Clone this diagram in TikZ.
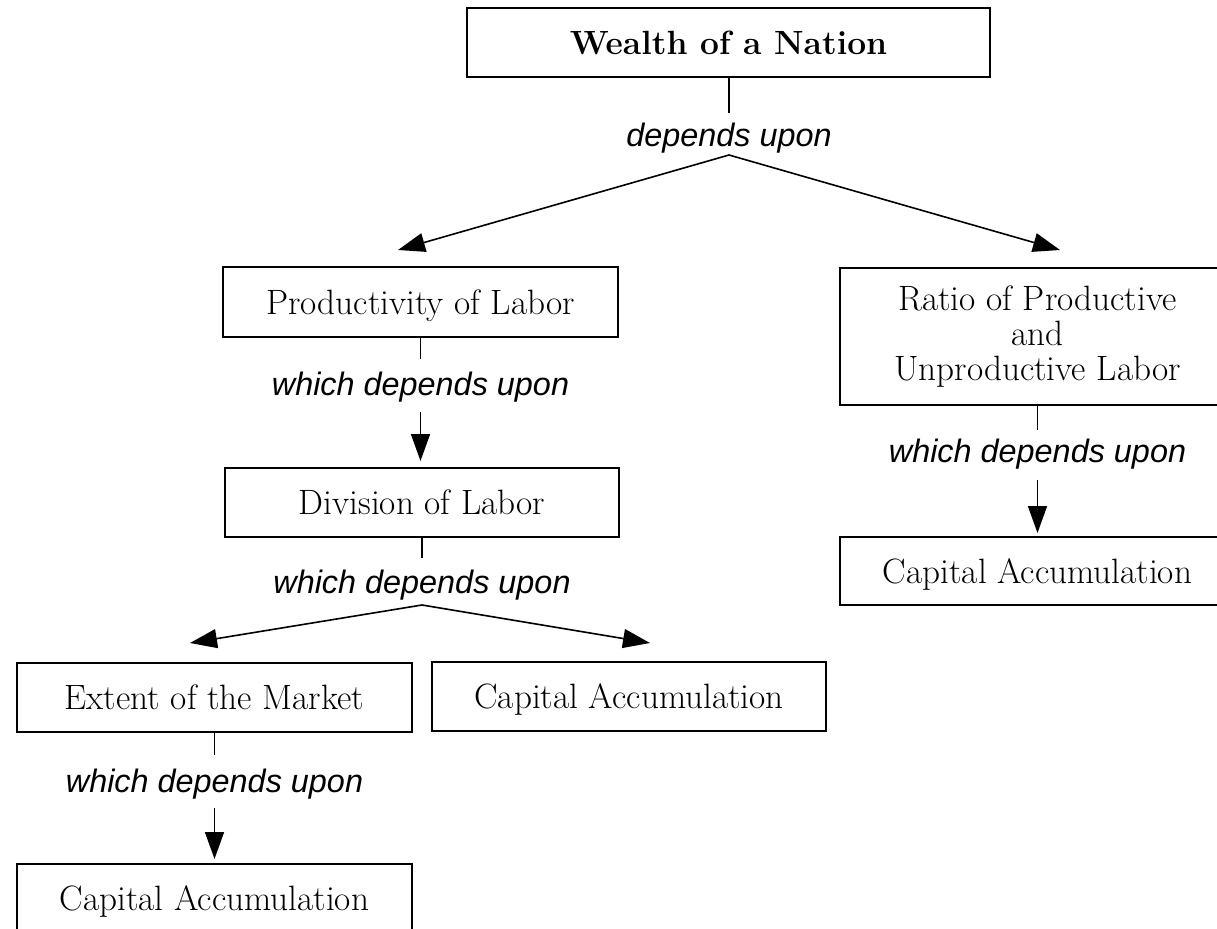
\documentclass[tikz,border=0pt]{standalone}
\usepackage{fontspec}
\newfontfamily\labfont{Liberation Sans}
\usetikzlibrary{arrows.meta}
\tikzset{
  nodebox/.style={draw, line width=1pt, inner sep=0pt, minimum width=197.5pt, minimum height=34.5pt,
    font=\fontsize{17.6}{17.5}\selectfont, align=center, text height=12pt, text depth=0pt},
  multibox/.style={draw, line width=1pt, inner sep=0pt, minimum width=197.5pt, minimum height=68.5pt,
    font=\fontsize{17.6}{17.5}\selectfont, align=center},
  lab/.style={inner sep=0pt, anchor=base, font=\labfont\itshape\fontsize{16.2}{18}\selectfont},
  conn/.style={line width=0.8pt},
  arr/.style={line width=0.8pt, -{Triangle[length=13.5pt,width=9.5pt]}},
}
\begin{document}
\begin{tikzpicture}[x=0.5pt,y=-0.5pt]
\useasboundingbox (0,0) rectangle (1217,928);
% boxes
\node[nodebox, minimum width=261.5pt, font=\bfseries\fontsize{16.8}{18}\selectfont] (wealth) at (728.5,42.5) {Wealth of a Nation};
\node[nodebox, minimum height=35pt] (prod) at (420.5,302) {Productivity of Labor};
\node[multibox] (ratio) at (1037.5,336.5) {Ratio of Productive\\and\\Unproductive Labor};
\node[nodebox, minimum height=34pt] (capR) at (1037.5,571) {Capital Accumulation};
\node[nodebox, minimum width=197pt] (div) at (422,502) {Division of Labor};
\node[nodebox] (ext) at (214.5,697) {Extent of the Market};
\node[nodebox, minimum width=197pt] (capM) at (629,696.5) {Capital Accumulation};
\node[nodebox] (capL) at (214.5,898.5) {Capital Accumulation};
% labels
\node[lab] (l0) at (729,146) {depends upon};
\node[lab] (l1) at (420.5,395) {which depends upon};
\node[lab] (l2) at (422,593) {which depends upon};
\node[lab] (l3) at (1037.5,462) {which depends upon};
\node[lab] (l4) at (214.5,792) {which depends upon};
% coordinates
\coordinate (e0) at (729,113);
\coordinate (a0) at (729,155);
\coordinate (t0L) at (398,250);
\coordinate (t0R) at (1060,250);
\coordinate (e1) at (420.5,359);
\coordinate (s1) at (420.5,412);
\coordinate (t1) at (420.5,461);
\coordinate (e2) at (422,558);
\coordinate (a2) at (422,605);
\coordinate (t2L) at (190,643);
\coordinate (t2R) at (650,643);
\coordinate (e3) at (1037.5,430);
\coordinate (s3) at (1037.5,480);
\coordinate (t3) at (1037.5,533);
\coordinate (e4) at (214.5,755);
\coordinate (s4) at (214.5,808);
\coordinate (t4) at (214.5,859);
% connectors
\draw[conn] (wealth.south -| e0) -- (e0);
\draw[arr] (a0) -- (t0L);
\draw[arr] (a0) -- (t0R);
\draw[conn] (prod.south) -- (e1);
\draw[arr] (s1) -- (t1);
\draw[conn] (div.south) -- (e2);
\draw[arr] (a2) -- (t2L);
\draw[arr] (a2) -- (t2R);
\draw[conn] (ratio.south) -- (e3);
\draw[arr] (s3) -- (t3);
\draw[conn] (ext.south) -- (e4);
\draw[arr] (s4) -- (t4);
\end{tikzpicture}
\end{document}
